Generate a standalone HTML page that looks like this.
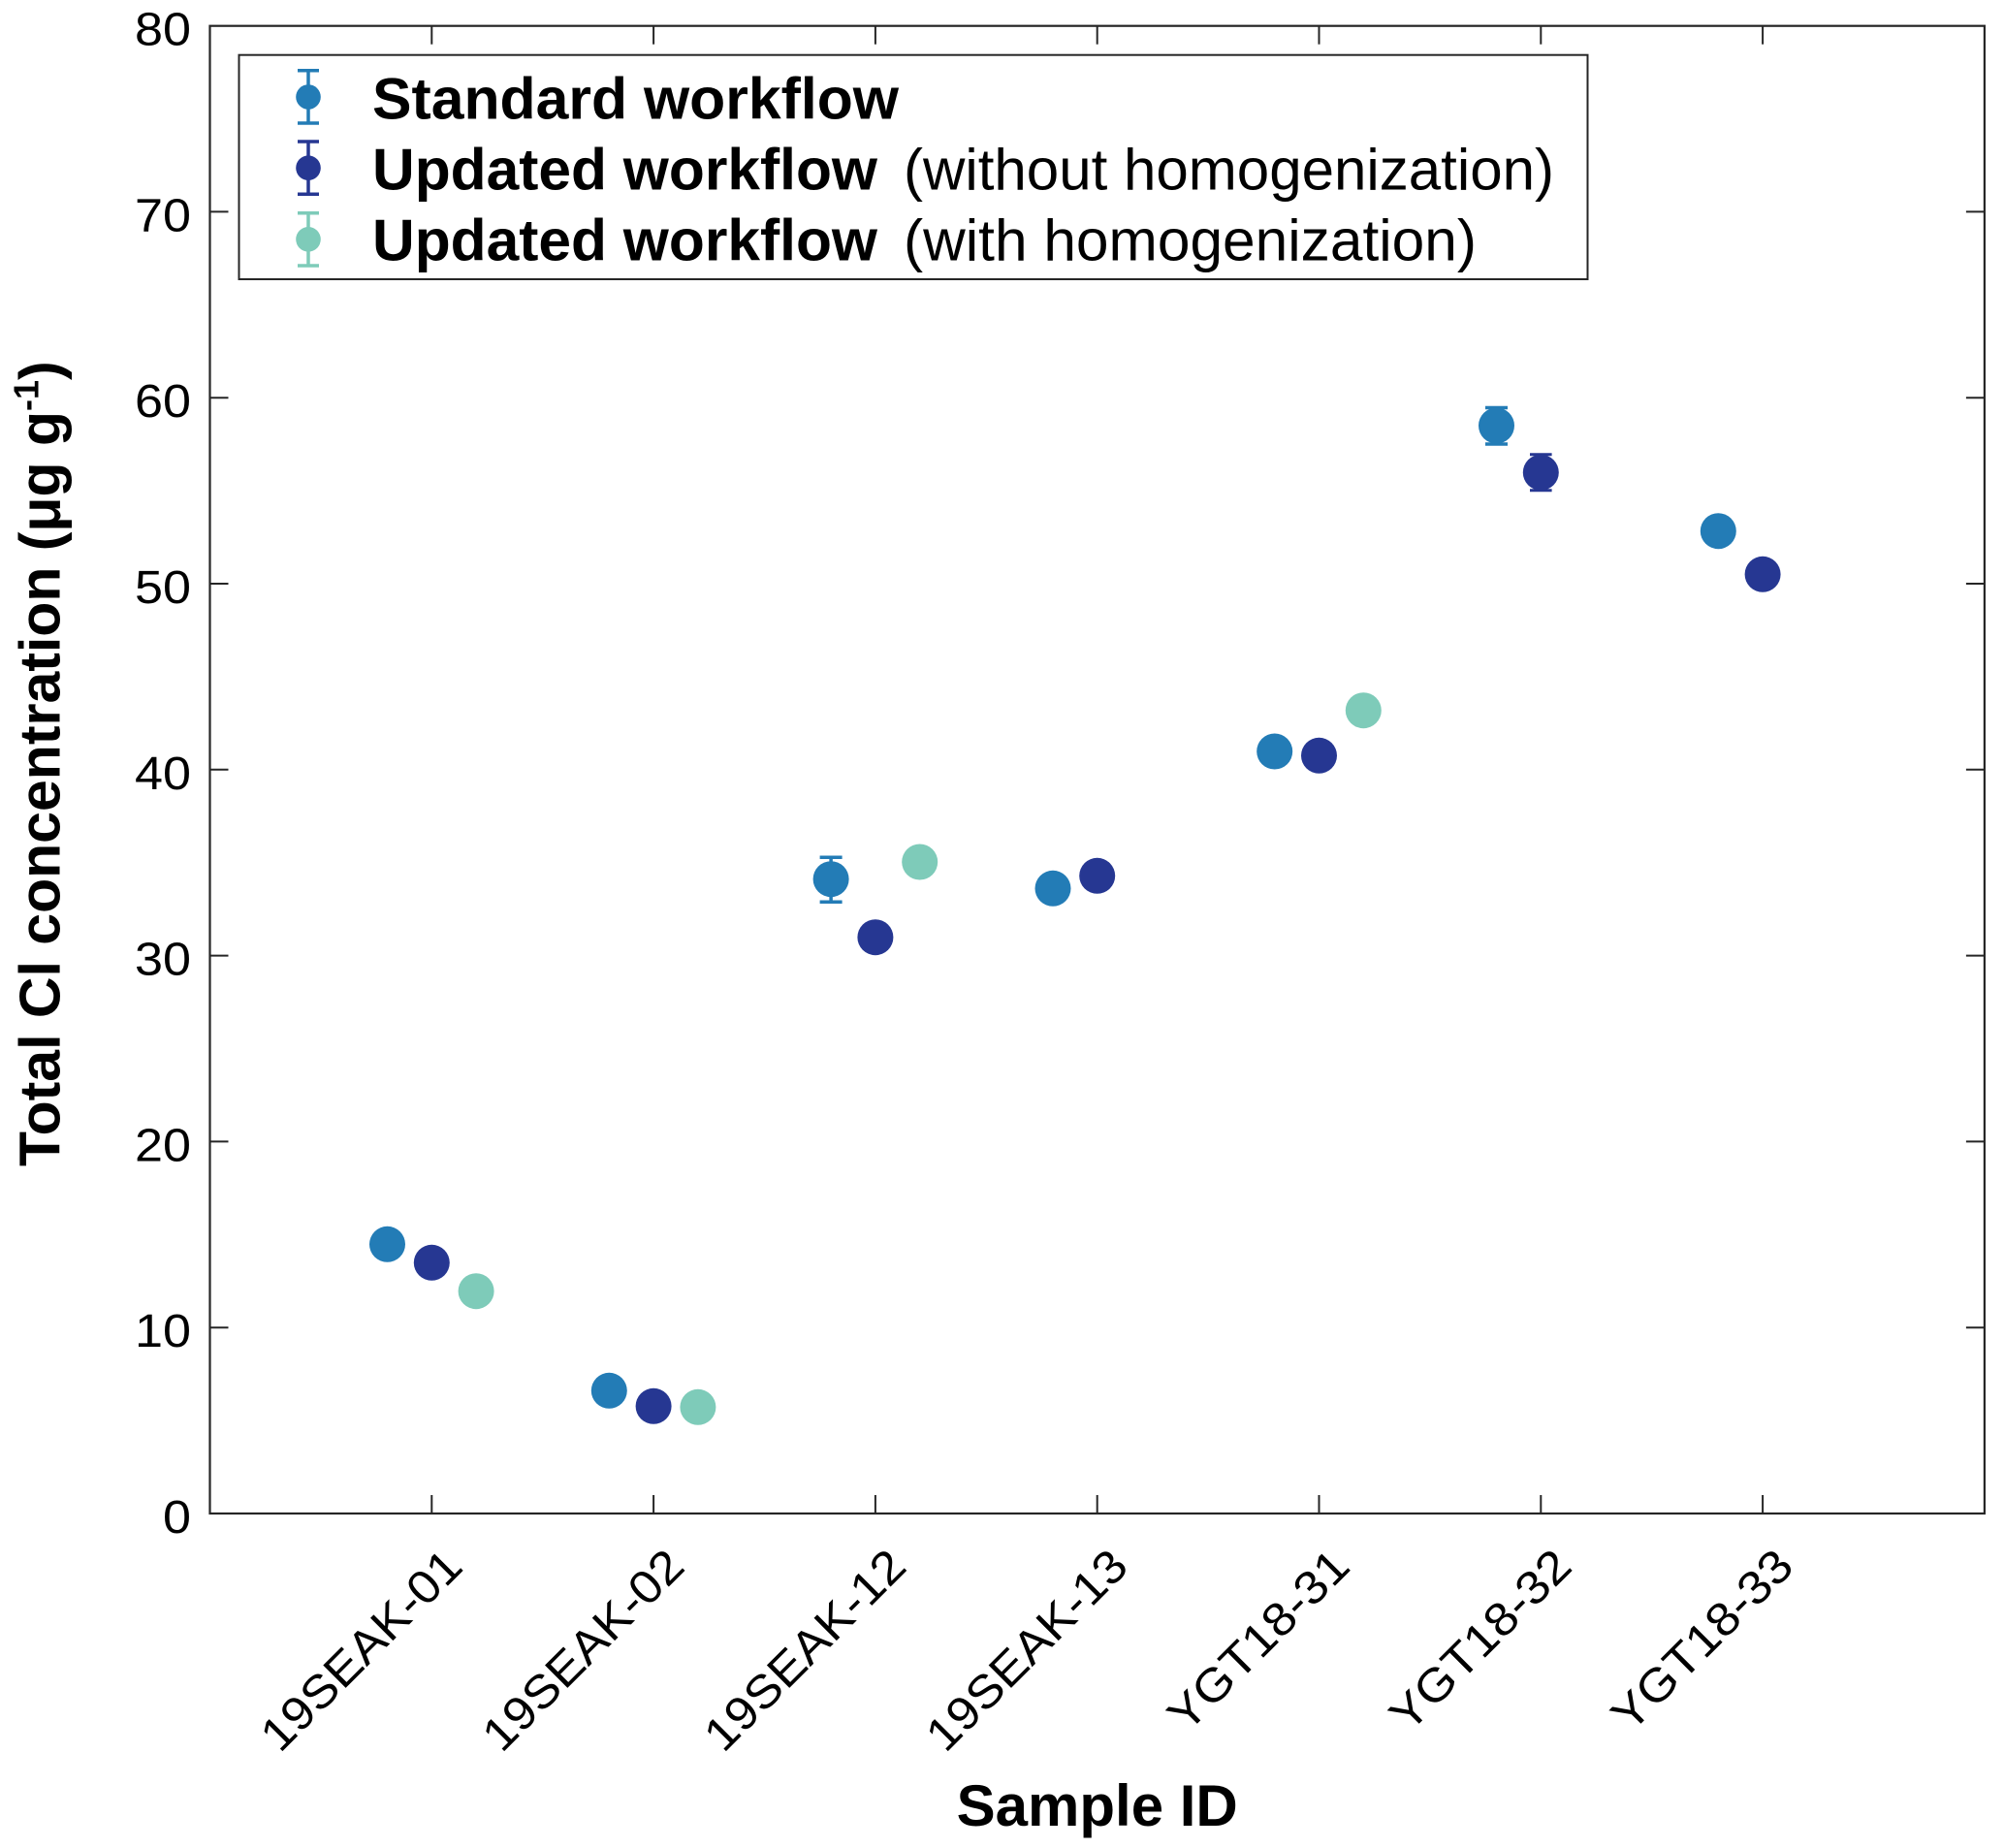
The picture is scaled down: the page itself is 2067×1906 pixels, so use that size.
<!DOCTYPE html>
<html>
<head>
<meta charset="utf-8">
<style>
  html,body{margin:0;padding:0;background:#fff;}
  svg{display:block;}
  text{font-family:"Liberation Sans", Arial, sans-serif;fill:#000;}
</style>
</head>
<body>
<svg width="2067" height="1906" viewBox="0 0 2067 1906" xmlns="http://www.w3.org/2000/svg">
  <rect x="0" y="0" width="2067" height="1906" fill="#fff"/>

  <!-- axes box -->
  <rect x="216.5" y="26.7" width="1830.4" height="1534.3" fill="none" stroke="#262626" stroke-width="2.2"/>

  <!-- y ticks (left and right) -->
  <g stroke="#262626" stroke-width="2">
    <line x1="216.5" y1="1369.2" x2="235.5" y2="1369.2"/>
    <line x1="216.5" y1="1177.4" x2="235.5" y2="1177.4"/>
    <line x1="216.5" y1="985.6" x2="235.5" y2="985.6"/>
    <line x1="216.5" y1="793.8" x2="235.5" y2="793.8"/>
    <line x1="216.5" y1="602.0" x2="235.5" y2="602.0"/>
    <line x1="216.5" y1="410.2" x2="235.5" y2="410.2"/>
    <line x1="216.5" y1="218.4" x2="235.5" y2="218.4"/>
    <line x1="2046.9" y1="1369.2" x2="2027.9" y2="1369.2"/>
    <line x1="2046.9" y1="1177.4" x2="2027.9" y2="1177.4"/>
    <line x1="2046.9" y1="985.6" x2="2027.9" y2="985.6"/>
    <line x1="2046.9" y1="793.8" x2="2027.9" y2="793.8"/>
    <line x1="2046.9" y1="602.0" x2="2027.9" y2="602.0"/>
    <line x1="2046.9" y1="410.2" x2="2027.9" y2="410.2"/>
    <line x1="2046.9" y1="218.4" x2="2027.9" y2="218.4"/>
    <!-- x ticks bottom & top -->
    <line x1="445.3" y1="1561" x2="445.3" y2="1542"/>
    <line x1="674.1" y1="1561" x2="674.1" y2="1542"/>
    <line x1="902.9" y1="1561" x2="902.9" y2="1542"/>
    <line x1="1131.7" y1="1561" x2="1131.7" y2="1542"/>
    <line x1="1360.5" y1="1561" x2="1360.5" y2="1542"/>
    <line x1="1589.3" y1="1561" x2="1589.3" y2="1542"/>
    <line x1="1818.1" y1="1561" x2="1818.1" y2="1542"/>
    <line x1="445.3" y1="26.7" x2="445.3" y2="45.7"/>
    <line x1="674.1" y1="26.7" x2="674.1" y2="45.7"/>
    <line x1="902.9" y1="26.7" x2="902.9" y2="45.7"/>
    <line x1="1131.7" y1="26.7" x2="1131.7" y2="45.7"/>
    <line x1="1360.5" y1="26.7" x2="1360.5" y2="45.7"/>
    <line x1="1589.3" y1="26.7" x2="1589.3" y2="45.7"/>
    <line x1="1818.1" y1="26.7" x2="1818.1" y2="45.7"/>
  </g>

  <!-- y tick labels -->
  <g font-size="48" text-anchor="end">
    <text x="197" y="1581" textLength="29" lengthAdjust="spacingAndGlyphs">0</text>
    <text x="197" y="1389.2" textLength="58" lengthAdjust="spacingAndGlyphs">10</text>
    <text x="197" y="1197.4" textLength="58" lengthAdjust="spacingAndGlyphs">20</text>
    <text x="197" y="1005.6" textLength="58" lengthAdjust="spacingAndGlyphs">30</text>
    <text x="197" y="813.8" textLength="58" lengthAdjust="spacingAndGlyphs">40</text>
    <text x="197" y="622" textLength="58" lengthAdjust="spacingAndGlyphs">50</text>
    <text x="197" y="430.2" textLength="58" lengthAdjust="spacingAndGlyphs">60</text>
    <text x="197" y="238.4" textLength="58" lengthAdjust="spacingAndGlyphs">70</text>
    <text x="197" y="46.7" textLength="58" lengthAdjust="spacingAndGlyphs">80</text>
  </g>

  <!-- x tick labels (rotated 45) -->
  <g font-size="48" text-anchor="end">
    <text transform="translate(479.5,1618) rotate(-45)" textLength="270" lengthAdjust="spacingAndGlyphs">19SEAK-01</text>
    <text transform="translate(708.3,1618) rotate(-45)" textLength="270" lengthAdjust="spacingAndGlyphs">19SEAK-02</text>
    <text transform="translate(937.1,1618) rotate(-45)" textLength="270" lengthAdjust="spacingAndGlyphs">19SEAK-12</text>
    <text transform="translate(1165.9,1618) rotate(-45)" textLength="270" lengthAdjust="spacingAndGlyphs">19SEAK-13</text>
    <text transform="translate(1394.7,1618) rotate(-45)" textLength="241" lengthAdjust="spacingAndGlyphs">YGT18-31</text>
    <text transform="translate(1623.5,1618) rotate(-45)" textLength="241" lengthAdjust="spacingAndGlyphs">YGT18-32</text>
    <text transform="translate(1852.3,1618) rotate(-45)" textLength="241" lengthAdjust="spacingAndGlyphs">YGT18-33</text>
  </g>

  <!-- axis labels -->
  <text x="1131.7" y="1883" font-size="60" font-weight="bold" text-anchor="middle">Sample ID</text>
  <text transform="translate(61.7,787.7) rotate(-90)" font-size="59" font-weight="bold" text-anchor="middle">Total Cl concentration (μg g<tspan font-size="36" dy="-22">-1</tspan><tspan dy="22">)</tspan></text>

  <!-- error bars -->
  <g stroke="#237CB6" stroke-width="3.5" fill="none">
    <line x1="857.1" y1="884.3" x2="857.1" y2="930.3"/>
    <line x1="845.6" y1="884.3" x2="868.6" y2="884.3"/>
    <line x1="845.6" y1="930.3" x2="868.6" y2="930.3"/>
    <line x1="1543.5" y1="420.5" x2="1543.5" y2="458"/>
    <line x1="1532" y1="420.5" x2="1555" y2="420.5"/>
    <line x1="1532" y1="458" x2="1555" y2="458"/>
  </g>
  <g stroke="#263792" stroke-width="3" fill="none">
    <line x1="1578" y1="468.8" x2="1600.6" y2="468.8"/>
    <line x1="1578" y1="505.8" x2="1600.6" y2="505.8"/>
  </g>

  <!-- data markers -->
  <g fill="#237CB6">
    <circle cx="399.5" cy="1283.3" r="18.5"/>
    <circle cx="628.3" cy="1434.3" r="18.5"/>
    <circle cx="857.1" cy="906.7" r="18.5"/>
    <circle cx="1086" cy="916.3" r="18.5"/>
    <circle cx="1314.7" cy="775" r="18.5"/>
    <circle cx="1543.5" cy="439" r="18.5"/>
    <circle cx="1772.3" cy="547.7" r="18.5"/>
  </g>
  <g fill="#263792">
    <circle cx="445.3" cy="1302.3" r="18.5"/>
    <circle cx="674.1" cy="1450.3" r="18.5"/>
    <circle cx="902.9" cy="966.7" r="18.5"/>
    <circle cx="1131.7" cy="903.3" r="18.5"/>
    <circle cx="1360.5" cy="779.3" r="18.5"/>
    <circle cx="1589.3" cy="487.3" r="18.5"/>
    <circle cx="1818.1" cy="592.3" r="18.5"/>
  </g>
  <g fill="#7ECBB9">
    <circle cx="491.1" cy="1331.7" r="18.5"/>
    <circle cx="719.9" cy="1451.3" r="18.5"/>
    <circle cx="948.7" cy="889" r="18.5"/>
    <circle cx="1406.3" cy="732.7" r="18.5"/>
  </g>

  <!-- legend -->
  <rect x="246.5" y="56.7" width="1391" height="231.3" fill="#fff" stroke="#262626" stroke-width="2"/>
  <g stroke-width="3.5" fill="none">
    <g stroke="#237CB6">
      <line x1="318" y1="72.7" x2="318" y2="127"/>
      <line x1="307" y1="72.7" x2="329" y2="72.7"/>
      <line x1="307" y1="127" x2="329" y2="127"/>
    </g>
    <g stroke="#263792">
      <line x1="318" y1="146" x2="318" y2="200.3"/>
      <line x1="307" y1="146" x2="329" y2="146"/>
      <line x1="307" y1="200.3" x2="329" y2="200.3"/>
    </g>
    <g stroke="#7ECBB9">
      <line x1="318" y1="219.7" x2="318" y2="274"/>
      <line x1="307" y1="219.7" x2="329" y2="219.7"/>
      <line x1="307" y1="274" x2="329" y2="274"/>
    </g>
  </g>
  <circle cx="318" cy="100" r="12.8" fill="#237CB6"/>
  <circle cx="318" cy="173.2" r="12.8" fill="#263792"/>
  <circle cx="318" cy="246.8" r="12.8" fill="#7ECBB9"/>

  <g font-size="60">
    <text x="384" y="122.7" font-weight="bold" textLength="543" lengthAdjust="spacingAndGlyphs">Standard workflow</text>
    <text x="384" y="195.5" font-weight="bold" textLength="521" lengthAdjust="spacingAndGlyphs">Updated workflow</text>
    <text x="932" y="195.5" textLength="671" lengthAdjust="spacingAndGlyphs">(without homogenization)</text>
    <text x="384" y="268.5" font-weight="bold" textLength="521" lengthAdjust="spacingAndGlyphs">Updated workflow</text>
    <text x="932" y="268.5" textLength="591" lengthAdjust="spacingAndGlyphs">(with homogenization)</text>
  </g>
</svg>
</body>
</html>
